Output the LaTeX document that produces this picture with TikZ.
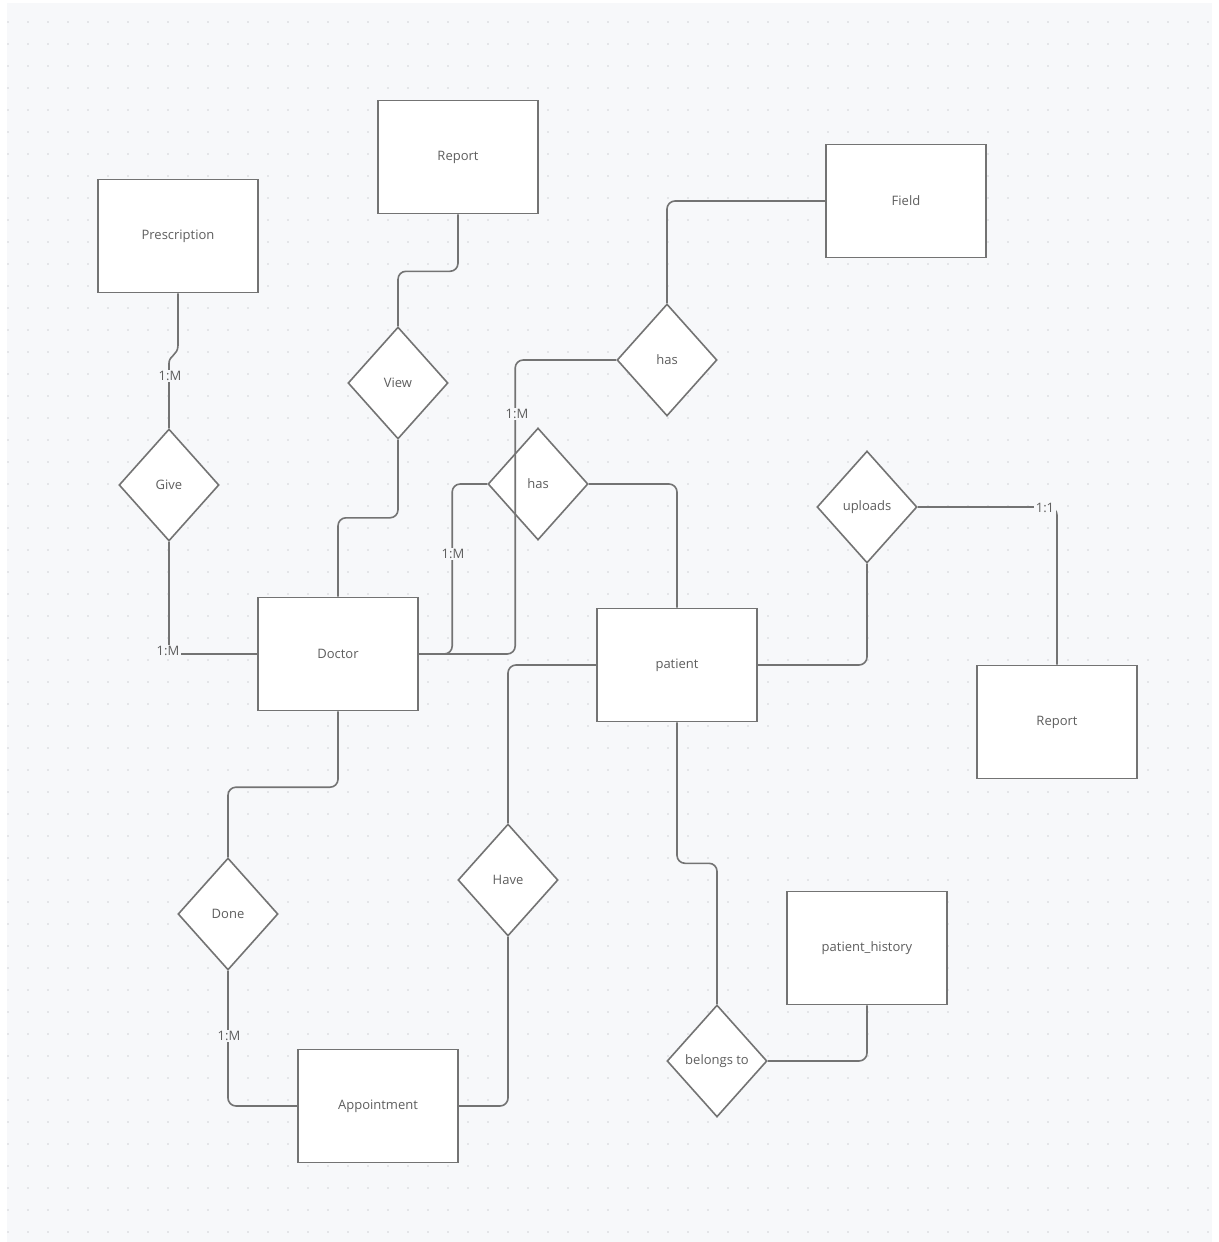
\documentclass[tikz,border=0pt]{standalone}
\usepackage{fontspec}
\setmainfont{Open Sans}
\usetikzlibrary{shapes.geometric}
\definecolor{canvas}{HTML}{F7F8FA}
\definecolor{griddot}{HTML}{D2D3D7}
\definecolor{edge}{HTML}{737373}
\definecolor{ink}{HTML}{5E5E5E}

\begin{document}
\begin{tikzpicture}[x=1pt,y=-1pt,font=\fontsize{13}{15}\selectfont,text=ink,
entity/.style={draw=edge,line width=1.6pt,fill=white,minimum width=160pt,minimum height=113pt},
rel/.style={diamond,draw=edge,line width=1.6pt,fill=white,inner sep=0pt,minimum width=100pt,minimum height=112pt},
link/.style={draw=edge,line width=1.6pt,rounded corners=8pt},
card/.style={fill=canvas,inner sep=1.5pt}]
\useasboundingbox (0,0) rectangle (1218,1242);
\fill[white] (0,0) rectangle (1218,1242);
\fill[canvas] (7,3) rectangle (1212,1242);
\foreach \x in {8,28,...,1208} \foreach \y in {22,44,...,1240} \fill[griddot] (\x,\y) circle (0.9pt);
% entities
\node[entity] (presc) at (178,236) {Prescription};
\node[entity] (report) at (458,157) {Report};
\node[entity] (field) at (906,201) {Field};
\node[entity] (doctor) at (338,654) {Doctor};
\node[entity] (patient) at (677,665) {patient};
\node[entity] (reportB) at (1057,722) {Report};
\node[entity] (history) at (867,948) {patient\_history};
\node[entity] (appt) at (378,1106) {Appointment};
% relations
\node[rel] (view) at (398,383) {View};
\node[rel] (hasA) at (667,360) {has};
\node[rel] (give) at (169,485) {Give};
\node[rel] (hasB) at (538,484) {has};
\node[rel] (uploads) at (867,507) {uploads};
\node[rel] (done) at (228,914) {Done};
\node[rel] (have) at (508,880) {Have};
\node[rel] (belongs) at (717,1061) {belongs to};
% links
\draw[link,sharp corners] (presc.south) -- ++(0,52) .. controls +(0,10) and +(0,-8) .. ++(-9,18) -- (give.north);
\draw[link] (give.south) |- (doctor.west);
\draw[link] (report.south) -- ++(0,57) -| (view.north);
\draw[link] (view.south) -- ++(0,78) -| (doctor.north);
\draw[link] (field.west) -| (hasA.north);
\draw[link] (hasA.west) -- ++(-101,0) |- (doctor.east);
\draw[link] (hasB.west) -- ++(-35,0) |- (doctor.east);
\draw[link] (hasB.east) -| (patient.north);
\draw[link] (patient.west) -| (have.north);
\draw[link] (have.south) |- (appt.east);
\draw[link] (appt.west) -| (done.south);
\draw[link] (done.north) -- ++(0,-70) -| (doctor.south);
\draw[link] (patient.south) -- ++(0,141) -| (belongs.north);
\draw[link] (history.south) |- (belongs.east);
\draw[link] (patient.east) -| (uploads.south);
\draw[link] (uploads.east) -| (reportB.north);
% cardinalities
\node[card] (m1) at (170,376) {1:M};
\node[card] (m2) at (168,651) {1:M};
\node[card] (m3) at (517,414) {1:M};
\node[card] (m4) at (453,554) {1:M};
\node[card] (m5) at (229,1036) {1:M};
\node[card] (o1) at (1045,508) {1:1};
\end{tikzpicture}
\end{document}
